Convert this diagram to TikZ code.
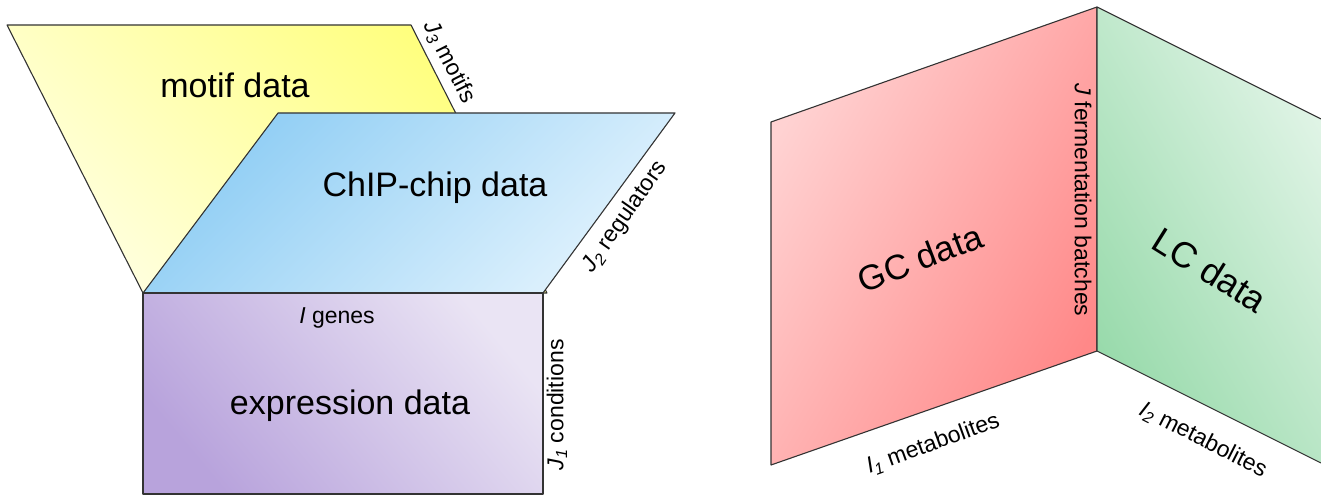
\documentclass[tikz,border=0pt]{standalone}
\usepackage{fontspec}
\setmainfont{Liberation Sans}

\definecolor{gelbDunkel}{HTML}{FFFF7A}
\definecolor{gelbHell}{HTML}{FFFFE0}
\definecolor{blauDunkel}{HTML}{8ECDF4}
\definecolor{blauHell}{HTML}{E0F2FD}
\definecolor{lilaDunkel}{HTML}{B8A3DC}
\definecolor{lilaHell}{HTML}{EAE4F4}
\definecolor{rotHell}{HTML}{FFD2D2}
\definecolor{rotDunkel}{HTML}{FF8888}
\definecolor{gruenDunkel}{HTML}{98DAAB}
\definecolor{gruenHell}{HTML}{E0F4E6}
\definecolor{kante}{HTML}{333333}

\tikzset{
  flaeche/.style={draw=kante, line width=1.1pt, line join=round},
  gross/.style={font=\fontsize{34}{38}\selectfont, inner sep=0pt},
  klein/.style={font=\fontsize{23}{26}\selectfont, inner sep=0pt},
}

\begin{document}
\begin{tikzpicture}[x=1pt,y=-1pt]
  \useasboundingbox (0,0) rectangle (1321,497);

  % Motivdaten (gelb, ganz hinten)
  \shade[flaeche, top color=gelbDunkel, bottom color=gelbHell, shading angle=-45]
    (7,25) -- (411,25) -- (547,293) -- (143,293) -- cycle;

  % ChIP-chip-Daten (blau)
  \shade[flaeche, top color=blauDunkel, bottom color=blauHell, shading angle=45]
    (278,113) -- (675,113) -- (543,293) -- (143,293) -- cycle;

  % Expressionsdaten (lila)
  \shade[flaeche, top color=lilaHell, bottom color=lilaDunkel, shading angle=-50]
    (143,293) rectangle (543,494);

  % Beschriftungen links
  \node[gross] (motif) at (235,85) {motif data};
  \node[gross] (chip) at (435,188) {ChIP-chip data};
  \node[gross] (expr) at (350,406) {expression data};
  \node[klein] (genes) at (337,318) {\textit{I} genes};
  \node[klein, rotate=90] (cond) at (557,405) {\textit{J}\textsubscript{\textit{1}} conditions};
  \node[klein, rotate=-63] (motifs) at (449,62) {\textit{J}\textsubscript{\textit{3}} motifs};
  \node[klein, rotate=55] (regs) at (625,217) {\textit{J}\textsubscript{\textit{2}} regulators};

  % GC-Daten (rot)
  \shade[flaeche, top color=rotHell, bottom color=rotDunkel, shading angle=60]
    (771,122) -- (1097,7) -- (1097,351) -- (771,465) -- cycle;

  % LC-Daten (gruen, rechts abgeschnitten)
  \shade[top color=gruenHell, bottom color=gruenDunkel, shading angle=-60]
    (1097,7) -- (1321,119) -- (1321,463) -- (1097,351) -- cycle;
  \draw[draw=kante, line width=1.1pt, line join=round]
    (1321,119) -- (1097,7) -- (1097,351) -- (1321,463);

  % Beschriftungen rechts
  \node[gross, font=\fontsize{35}{38}\selectfont, rotate=21] (gc) at (920,258) {GC data};
  \node[gross, font=\fontsize{36}{38}\selectfont, rotate=-32] (lc) at (1210,270) {LC data};
  \node[klein, rotate=-90] (batch) at (1083,200) {\textit{J} fermentation batches};
  \node[klein, rotate=20] (met1) at (933,444) {\textit{I}\textsubscript{\textit{1}} metabolites};
  \node[klein, rotate=-27] (met2) at (1203,440) {\textit{I}\textsubscript{\textit{2}} metabolites};

\end{tikzpicture}
\end{document}
